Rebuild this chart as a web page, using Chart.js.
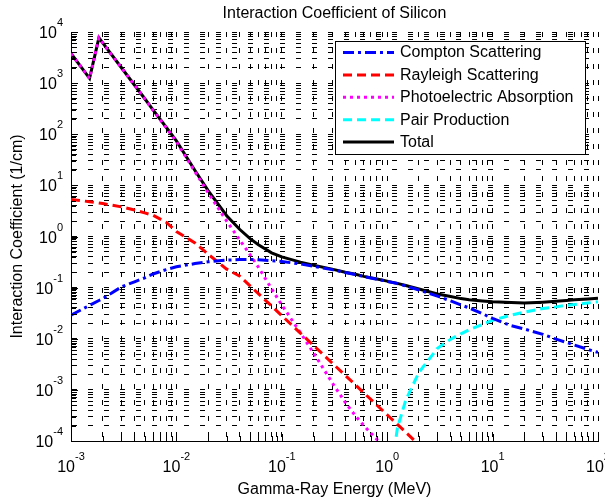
<!DOCTYPE html>
<html>
<head>
<meta charset="utf-8">
<script src="https://cdn.jsdelivr.net/npm/chart.js@4.4.0/dist/chart.umd.min.js"></script>
<style>
	body { margin: 0; background: #fff; }
	canvas { display: block; }
</style>
</head>
<body>
<canvas id="silicon" width="605" height="504"></canvas>
<script>
// photon energy (MeV)
var energy = [0.001, 0.0015, 0.00184, 0.002, 0.003, 0.004, 0.005, 0.006, 0.008, 0.01,
	0.015, 0.02, 0.03, 0.04, 0.05, 0.06, 0.08, 0.1, 0.15, 0.2,
	0.3, 0.4, 0.5, 0.6, 0.8, 1, 1.022, 1.25, 1.5, 2,
	3, 4, 5, 6, 8, 10, 15, 20, 30, 40,
	50, 60, 80, 100];

// interaction coefficients (1/cm)
var compton = [0.029, 0.045, 0.056, 0.061, 0.103, 0.13, 0.155, 0.185, 0.225, 0.255,
	0.295, 0.32, 0.345, 0.355, 0.355, 0.35, 0.335, 0.325, 0.29, 0.262,
	0.225, 0.198, 0.18, 0.165, 0.146, 0.133, 0.131, 0.12, 0.108, 0.09,
	0.068, 0.055, 0.046, 0.04, 0.031, 0.025, 0.018, 0.0155, 0.0122, 0.0098,
	0.0085, 0.0075, 0.0062, 0.0054];
var rayleigh = [5.3, 4.8, 4.5, 4.4, 3.8, 3.3, 2.9, 2.6, 1.9, 1.25,
	0.75, 0.45, 0.23, 0.167, 0.108, 0.076, 0.0437, 0.0283, 0.0129, 0.0074,
	0.00336, 0.00192, 0.00125, 0.000875, 0.0005, 0.000325, 0.000312, 0.000211, 0.000148, 0.0000848,
	null, null, null, null, null, null, null, null, null, null,
	null, null, null, null];
var photo = [3790, 1235, 7690, 6090, 2015, 915, 496, 297, 135, 72,
	18.5, 7.2, 2.0, 0.845, 0.44, 0.25, 0.095, 0.0456, 0.0132, 0.0053,
	0.00139, 0.00057, 0.00031, 0.0002, 0.000107, 0.000066, 0.000062, 0.00004, null, null,
	null, null, null, null, null, null, null, null, null, null,
	null, null, null, null];
var pair = [null, null, null, null, null, null, null, null, null, null,
	null, null, null, null, null, null, null, null, null, null,
	null, null, null, null, null, null, 0.00001, 0.00018, 0.00063, 0.0022,
	0.0065, 0.0098, 0.0125, 0.015, 0.019, 0.023, 0.029, 0.033, 0.039, 0.042,
	0.045, 0.047, 0.05, 0.053];
var total = [3800, 1240, 7700, 6100, 2020, 920, 500, 300, 137, 74,
	19.5, 7.9, 2.55, 1.37, 0.91, 0.69, 0.48, 0.4, 0.315, 0.275,
	0.23, 0.2, 0.182, 0.166, 0.147, 0.134, 0.132, 0.121, 0.11, 0.094,
	0.075, 0.067, 0.061, 0.058, 0.055, 0.053, 0.051, 0.05, 0.052, 0.054,
	0.056, 0.058, 0.06, 0.062];

var seriesNames = ['Compton Scattering', 'Rayleigh Scattering', 'Photoelectric Absorption', 'Pair Production', 'Total'];

// decade exponents used for the tick labels
var xDecades = [-3, -2, -1, 0, 1, 2];
var yDecades = [-4, -3, -2, -1, 0, 1, 2, 3, 4];

var FONT = '"Liberation Sans", Arial, Helvetica, sans-serif';

function points(vals) {
	return energy.map(function (e, i) {
		return { x: e, y: vals[i] };
	});
}

// 1..9 x 10^n for every decade, gives the minor grid
function logTicks(decades) {
	var out = [];
	for (var d = 0; d < decades.length; d++) {
		var m = d == decades.length - 1 ? 1 : 9;
		for (var k = 1; k <= m; k++) {
			out.push({ value: Number((k * Math.pow(10, decades[d])).toPrecision(3)), major: k == 1 });
		}
	}
	return out;
}

function axisOptions(decades) {
	return {
		type: 'logarithmic',
		min: Math.pow(10, decades[0]),
		max: Math.pow(10, decades[decades.length - 1]),
		afterBuildTicks: function (scale) {
			scale.ticks = logTicks(decades);
		},
		ticks: { display: false },
		grid: { color: '#000', lineWidth: 1, drawTicks: false },
		border: { display: true, color: '#000', width: 1, dash: [5, 11] },
		title: { display: false },
	};
}

// power-of-ten label: "10" with a raised exponent
function powerLabel(ctx, exp, x, y, align) {
	var base = '10';
	var sup = String(exp);
	ctx.font = '16px ' + FONT;
	var wb = ctx.measureText(base).width;
	ctx.font = '11px ' + FONT;
	var ws = ctx.measureText(sup).width;
	var left = align == 'right' ? x - wb - ws : x - (wb + ws) / 2;
	ctx.textAlign = 'left';
	ctx.textBaseline = 'alphabetic';
	ctx.font = '16px ' + FONT;
	ctx.fillText(base, left, y);
	ctx.font = '11px ' + FONT;
	ctx.fillText(sup, left + wb, y - 12);
}

var decorations = {
	id: 'decorations',
	afterDatasetsDraw: function (chart) {
		var ctx = chart.ctx;
		var area = chart.chartArea;
		var xs = chart.scales.x;
		var ys = chart.scales.y;

		ctx.save();
		// inner tick marks on left and bottom axes
		ctx.strokeStyle = '#000';
		ctx.lineWidth = 1;
		ctx.beginPath();
		xs.ticks.forEach(function (t) {
			var px = Math.round(xs.getPixelForValue(t.value)) + 0.5;
			ctx.moveTo(px, area.bottom);
			ctx.lineTo(px, area.bottom - (t.major ? 7 : 5));
		});
		ys.ticks.forEach(function (t) {
			var py = Math.round(ys.getPixelForValue(t.value)) + 0.5;
			ctx.moveTo(area.left, py);
			ctx.lineTo(area.left + (t.major ? 7 : 5), py);
		});
		ctx.stroke();

		// legend box
		var bx = 335.5, by = 41.5, bw = 250, bh = 113;
		ctx.fillStyle = '#fff';
		ctx.fillRect(bx, by, bw, bh);
		ctx.strokeStyle = '#000';
		ctx.lineWidth = 1;
		ctx.strokeRect(bx, by, bw, bh);
		chart.data.datasets.forEach(function (ds, i) {
			var ry = 52.5 + i * 22.4;
			ctx.strokeStyle = ds.borderColor;
			ctx.lineWidth = ds.borderWidth;
			ctx.setLineDash(ds.borderDash || []);
			ctx.beginPath();
			ctx.moveTo(343, ry);
			ctx.lineTo(394, ry);
			ctx.stroke();
			ctx.setLineDash([]);
			ctx.fillStyle = '#000';
			ctx.font = '16px ' + FONT;
			ctx.textAlign = 'left';
			ctx.textBaseline = 'middle';
			ctx.fillText(ds.label, 400, ry + 0.5);
		});
		ctx.restore();
	},
	afterDraw: function (chart) {
		var ctx = chart.ctx;
		var area = chart.chartArea;
		var xs = chart.scales.x;
		var ys = chart.scales.y;
		ctx.save();
		ctx.fillStyle = '#000';

		xDecades.forEach(function (d) {
			var px = xs.getPixelForValue(Math.pow(10, d));
			powerLabel(ctx, d, px, area.bottom + 31, 'center');
		});
		yDecades.forEach(function (d) {
			var py = ys.getPixelForValue(Math.pow(10, d));
			powerLabel(ctx, d, area.left - 8, py + 6, 'right');
		});

		ctx.font = '16px ' + FONT;
		ctx.textAlign = 'center';
		ctx.textBaseline = 'middle';
		ctx.fillText('Interaction Coefficient of Silicon', (area.left + area.right) / 2, 14);
		ctx.fillText('Gamma-Ray Energy (MeV)', (area.left + area.right) / 2, 490);

		ctx.translate(18, (area.top + area.bottom) / 2);
		ctx.rotate(-Math.PI / 2);
		ctx.fillText('Interaction Coefficient (1/cm)', 0, 0);
		ctx.restore();
	},
};

var ctx = document.getElementById('silicon').getContext('2d');

var chart = new Chart(ctx, {
	type: 'line',
	data: {
		datasets: [
			{
				label: seriesNames[0],
				data: points(compton),
				borderColor: '#0000ff',
				borderWidth: 3,
				borderDash: [11, 4, 3, 4],
			},
			{
				label: seriesNames[1],
				data: points(rayleigh),
				borderColor: '#ff0000',
				borderWidth: 3,
				borderDash: [9, 5],
			},
			{
				label: seriesNames[2],
				data: points(photo),
				borderColor: '#ff00ff',
				borderWidth: 3,
				borderDash: [3, 4],
			},
			{
				label: seriesNames[3],
				data: points(pair),
				borderColor: '#00ffff',
				borderWidth: 3,
				borderDash: [9, 5],
			},
			{
				label: seriesNames[4],
				data: points(total),
				borderColor: '#000000',
				borderWidth: 3,
				borderDash: [],
			},
		],
	},
	options: {
		responsive: false,
		animation: false,
		layout: { padding: { left: 71, right: 7, top: 32, bottom: 63 } },
		elements: {
			point: { radius: 0 },
			line: { tension: 0, fill: false, borderCapStyle: 'butt' },
		},
		datasets: { line: { clip: 0, spanGaps: false } },
		scales: {
			x: axisOptions(xDecades),
			y: axisOptions(yDecades),
		},
		plugins: {
			legend: { display: false },
			title: { display: false },
			tooltip: { enabled: false },
		},
	},
	plugins: [decorations],
});
</script>
</body>
</html>
